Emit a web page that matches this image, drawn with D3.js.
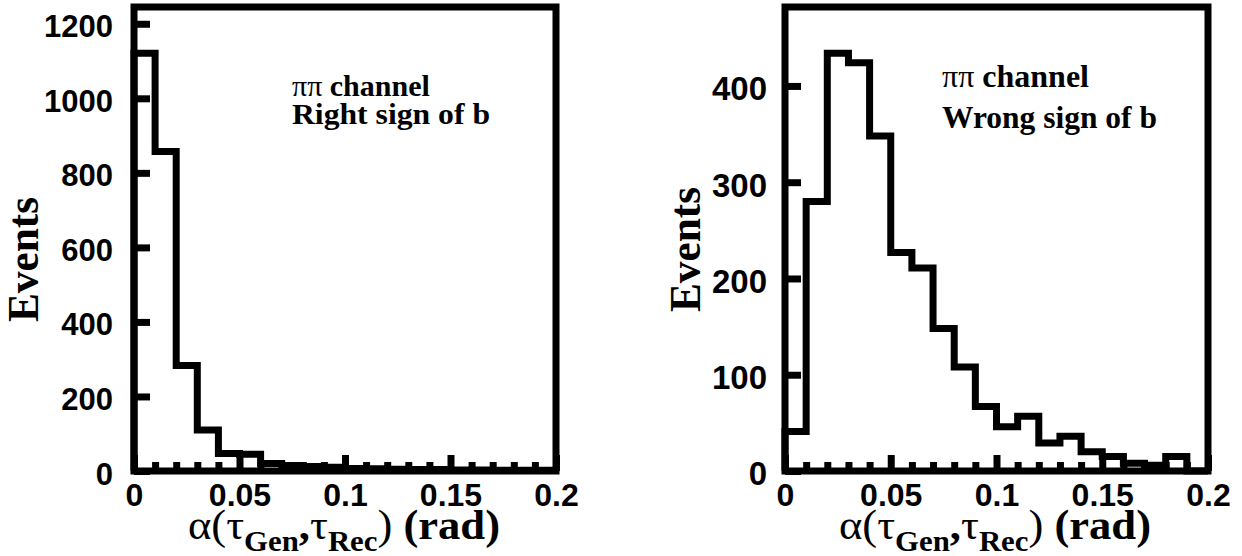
<!DOCTYPE html>
<html>
<head>
<meta charset="utf-8">
<script src="https://cdn.jsdelivr.net/npm/d3@7"></script>
<style>
  body { margin: 0; background: #fff; }
</style>
</head>
<body>
<div id="chart"></div>
<script>
// bin low edges (rad), histogram ends at 0.2
var binStarts = [0, 0.01, 0.02, 0.03, 0.04, 0.05, 0.06, 0.07, 0.08, 0.09,
                 0.1, 0.11, 0.12, 0.13, 0.14, 0.15, 0.16, 0.17, 0.18, 0.19];
var binEnd = 0.2;

// events per bin
var rightSignCounts = [1121, 857, 283, 110, 47, 45, 20, 15, 12, 10,
                       7, 6, 5, 4, 4, 3, 3, 2, 2, 2];
var wrongSignCounts = [41, 280, 434, 424, 348, 227, 211, 148, 108, 67,
                       46, 57, 29, 36, 20, 15, 8, 6, 15, 0];

var xTicks = [0, 0.05, 0.1, 0.15, 0.2];
var xMinorTicks = [0.01, 0.02, 0.03, 0.04, 0.06, 0.07, 0.08, 0.09,
                   0.11, 0.12, 0.13, 0.14, 0.16, 0.17, 0.18, 0.19];
var leftYTicks = [0, 200, 400, 600, 800, 1000, 1200];
var rightYTicks = [0, 100, 200, 300, 400];

var W = 1242, H = 556;
var SERIF = "'Liberation Serif', 'Times New Roman', serif";
var SANS = "'Liberation Sans', Arial, sans-serif";

var svg = d3.select("#chart")
  .append("svg")
    .attr("width", W)
    .attr("height", H);

function drawPanel(p) {
  var x = d3.scaleLinear().domain([0, binEnd]).range([p.left, p.right]);
  var y = d3.scaleLinear().domain([0, p.yMax]).range([471, 7]);
  var g = svg.append("g");

  // histogram outline
  var pts = [[0, 0]];
  binStarts.forEach(function(b, i) { pts.push([b, p.counts[i]]); });
  pts.push([binEnd, p.counts[p.counts.length - 1]]);
  pts.push([binEnd, 0]);

  var makeLine = d3.line()
    .x(function(d) { return x(d[0]); })
    .y(function(d) { return y(d[1]); })
    .curve(d3.curveStepAfter);

  g.append("path")
    .attr("d", makeLine(pts))
    .attr("fill", "none")
    .attr("stroke", "#000")
    .attr("stroke-width", 7)
    .attr("stroke-linejoin", "miter");

  // frame
  g.append("rect")
    .attr("x", x(0)).attr("y", y(p.yMax))
    .attr("width", x(binEnd) - x(0))
    .attr("height", y(0) - y(p.yMax))
    .attr("fill", "none")
    .attr("stroke", "#000")
    .attr("stroke-width", 7);

  // x axis, major + minor ticks pointing inward
  var xAxis = g.append("g")
    .attr("transform", "translate(0," + y(0) + ")")
    .call(d3.axisBottom(x).tickValues(xTicks).tickSize(-16).tickPadding(12)
      .tickFormat(function(d) { return String(d); }));
  var xMinor = g.append("g")
    .attr("transform", "translate(0," + y(0) + ")")
    .call(d3.axisBottom(x).tickValues(xMinorTicks).tickSize(-9).tickFormat(""));

  // y axis
  var yAxis = g.append("g")
    .attr("transform", "translate(" + x(0) + ",0)")
    .call(d3.axisLeft(y).tickValues(p.yTicks).tickSize(-16).tickPadding(p.yPad)
      .tickFormat(d3.format("d")));

  [xAxis, xMinor, yAxis].forEach(function(a) {
    a.select(".domain").remove();
    a.selectAll(".tick line").attr("stroke", "#000").attr("stroke-width", 7);
    a.selectAll(".tick text")
      .attr("fill", "#000")
      .style("font-family", SANS)
      .style("font-weight", "bold");
  });
  xAxis.selectAll(".tick text").style("font-size", "32px");
  yAxis.selectAll(".tick text").style("font-size", p.yFont + "px").attr("dy", "0.42em");

  // annotation
  var n1 = g.append("text")
    .attr("x", p.noteX).attr("y", p.noteY1)
    .style("font-family", SERIF).style("font-size", p.noteFont + "px")
    .style("font-weight", "bold");
  n1.append("tspan").style("font-weight", "normal").text("\u03c0\u03c0");
  n1.append("tspan").text(" channel");

  g.append("text")
    .attr("x", p.noteX).attr("y", p.noteY2)
    .attr("textLength", p.noteW2).attr("lengthAdjust", "spacingAndGlyphs")
    .style("font-family", SERIF).style("font-size", p.noteFont + "px")
    .style("font-weight", "bold")
    .text(p.note);

  // y title
  g.append("text")
    .attr("transform", "translate(" + p.yTitleX + "," + p.yTitleY + ") rotate(-90)")
    .attr("text-anchor", "middle")
    .attr("textLength", 125).attr("lengthAdjust", "spacingAndGlyphs")
    .style("font-family", SERIF).style("font-size", "44px")
    .style("font-weight", "bold")
    .text("Events");

  // x title
  var t = g.append("text")
    .attr("x", x(0) + 54).attr("y", 539)
    .attr("textLength", 312).attr("lengthAdjust", "spacingAndGlyphs")
    .style("font-family", SERIF).style("font-size", "42px")
    .style("font-weight", "bold");
  t.append("tspan").style("font-weight", "normal").text("\u03b1(\u03c4");
  t.append("tspan").attr("dy", 12).style("font-size", "29px").text("Gen");
  t.append("tspan").attr("dy", -12).text(",");
  t.append("tspan").style("font-weight", "normal").text("\u03c4");
  t.append("tspan").attr("dy", 12).style("font-size", "29px").text("Rec");
  t.append("tspan").attr("dy", -12).style("font-weight", "normal").text(")");
  t.append("tspan").text(" (rad)");
}

drawPanel({
  left: 134, right: 556, yMax: 1245,
  counts: rightSignCounts, yTicks: leftYTicks, yPad: 21, yFont: 31,
  note: "Right sign of b", noteX: 292, noteY1: 96, noteY2: 124,
  noteW2: 198, noteFont: 30,
  yTitleX: 38, yTitleY: 259.5
});

drawPanel({
  left: 785, right: 1208, yMax: 482,
  counts: wrongSignCounts, yTicks: rightYTicks, yPad: 18, yFont: 33,
  note: "Wrong sign of b", noteX: 942, noteY1: 87, noteY2: 128,
  noteW2: 215, noteFont: 32,
  yTitleX: 700, yTitleY: 249.5
});
</script>
</body>
</html>
